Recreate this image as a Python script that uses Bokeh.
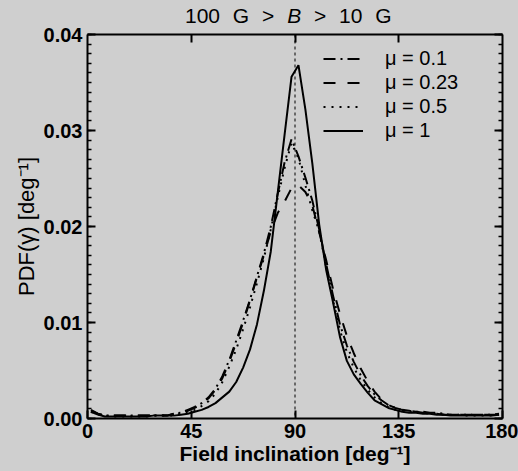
from bokeh.plotting import figure
from bokeh.models import Range1d, LinearAxis, FixedTicker, Span, Legend, LegendItem, Div
from bokeh.layouts import column
from bokeh.embed import file_html
from bokeh.resources import INLINE

# ---- data ----
inclination = [1.5, 4.5, 7.5, 10.5, 13.5, 16.5, 19.5, 22.5, 25.5, 28.5,
               31.5, 34.5, 37.5, 40.5, 43.5, 46.5, 49.5, 52.5, 55.5, 58.5,
               61.5, 64.5, 67.5, 70.5, 73.5, 76.5, 79.5, 82.5, 85.5, 88.5,
               91.5, 94.5, 97.5, 100.5, 103.5, 106.5, 109.5, 112.5, 115.5, 118.5,
               121.5, 124.5, 127.5, 130.5, 133.5, 136.5, 139.5, 142.5, 145.5, 148.5,
               151.5, 154.5, 157.5, 160.5, 163.5, 166.5, 169.5, 172.5, 175.5, 178.5]

pdf_mu_01 = [0.0009, 0.0005, 0.0003, 0.0003, 0.0003, 0.0003, 0.0003, 0.0003, 0.0003, 0.0003,
             0.0003, 0.0003, 0.0005, 0.0006, 0.0009, 0.0012, 0.0016, 0.0022, 0.0031, 0.0044,
             0.0061, 0.0081, 0.0102, 0.0124, 0.0148, 0.0172, 0.0200, 0.0234, 0.0267, 0.0291,
             0.0273, 0.0251, 0.0227, 0.0197, 0.0161, 0.0128, 0.0098, 0.0076, 0.0059, 0.0045,
             0.0034, 0.0025, 0.0019, 0.0014, 0.0011, 0.0009, 0.0008, 0.0007, 0.0007, 0.0006,
             0.0006, 0.0005, 0.0004, 0.0004, 0.0004, 0.0004, 0.0004, 0.0004, 0.0004, 0.0005]

pdf_mu_023 = [0.0008, 0.0005, 0.0003, 0.0003, 0.0003, 0.0003, 0.0003, 0.0003, 0.0003, 0.0003,
              0.0003, 0.0003, 0.0005, 0.0006, 0.0008, 0.0011, 0.0015, 0.0021, 0.0030, 0.0042,
              0.0059, 0.0079, 0.0100, 0.0123, 0.0147, 0.0170, 0.0195, 0.0214, 0.0226, 0.0240,
              0.0243, 0.0236, 0.0222, 0.0194, 0.0165, 0.0135, 0.0109, 0.0086, 0.0068, 0.0052,
              0.0039, 0.0028, 0.0020, 0.0014, 0.0011, 0.0009, 0.0008, 0.0007, 0.0006, 0.0006,
              0.0005, 0.0004, 0.0004, 0.0004, 0.0004, 0.0004, 0.0004, 0.0004, 0.0004, 0.0004]

pdf_mu_05 = [0.0007, 0.0004, 0.0003, 0.0002, 0.0002, 0.0002, 0.0002, 0.0002, 0.0002, 0.0003,
             0.0003, 0.0003, 0.0003, 0.0005, 0.0007, 0.0009, 0.0013, 0.0018, 0.0026, 0.0038,
             0.0054, 0.0072, 0.0093, 0.0116, 0.0141, 0.0167, 0.0197, 0.0230, 0.0261, 0.0287,
             0.0271, 0.0243, 0.0217, 0.0195, 0.0158, 0.0123, 0.0092, 0.0069, 0.0053, 0.0040,
             0.0030, 0.0022, 0.0016, 0.0012, 0.0009, 0.0008, 0.0007, 0.0006, 0.0006, 0.0005,
             0.0005, 0.0004, 0.0004, 0.0004, 0.0003, 0.0003, 0.0003, 0.0003, 0.0003, 0.0004]

pdf_mu_1 = [0.0007, 0.0004, 0.0002, 0.0002, 0.0002, 0.0002, 0.0002, 0.0002, 0.0002, 0.0003,
            0.0003, 0.0003, 0.0003, 0.0004, 0.0005, 0.0007, 0.0009, 0.0012, 0.0016, 0.0022,
            0.0028, 0.0038, 0.0053, 0.0072, 0.0098, 0.0133, 0.0174, 0.0235, 0.0296, 0.0356,
            0.0368, 0.0322, 0.0266, 0.0202, 0.0155, 0.0121, 0.0085, 0.0060, 0.0046, 0.0036,
            0.0027, 0.0019, 0.0015, 0.0011, 0.0009, 0.0007, 0.0006, 0.0006, 0.0005, 0.0005,
            0.0004, 0.0004, 0.0003, 0.0003, 0.0003, 0.0003, 0.0003, 0.0003, 0.0003, 0.0004]

series_labels = ["μ = 0.1", "μ = 0.23", "μ = 0.5", "μ = 1"]
vertical_marker = 90
x_ticks = [0, 45, 90, 135, 180]
x_top_ticks = [45, 90, 135]
y_ticks = [0.0, 0.01, 0.02, 0.03, 0.04]
y_tick_labels = ["0.00", "0.01", "0.02", "0.03", "0.04"]
title_html = "100 G &gt; <i>B</i> &gt; 10 G"
x_label = "Field inclination [deg⁻¹]"
y_label = "PDF(γ) [deg⁻¹]"

BG = "#cfcfcf"
FONT = "Liberation Sans"

title_div = Div(
    text=('<div style="width:518px;height:32px;box-sizing:border-box;padding-left:185px;'
          'line-height:32px;font-family:\'Liberation Sans\';font-size:21px;color:black;'
          'word-spacing:7px;white-space:nowrap;">%s</div>') % title_html,
    width=518, height=22, margin=0,
    styles={"background-color": BG, "overflow": "visible"})

p = figure(width=518, height=449, output_backend="svg", toolbar_location=None,
           x_range=Range1d(0, 180), y_range=Range1d(0, 0.04),
           min_border_left=87, min_border_right=16, min_border_top=12, min_border_bottom=53,
           background_fill_color=BG, border_fill_color=None, margin=0)
p.outline_line_color = None
p.xgrid.visible = False
p.ygrid.visible = False

y_minor = [round(i * 0.001, 3) for i in range(0, 41)]

def style_axis(ax):
    ax.axis_line_width = 2
    ax.axis_line_color = "black"
    ax.major_tick_in = 8
    ax.major_tick_out = 0
    ax.minor_tick_in = 4
    ax.minor_tick_out = 0
    ax.major_tick_line_width = 2
    ax.minor_tick_line_width = 1.5
    ax.major_label_text_font = FONT
    ax.major_label_text_font_style = "bold"
    ax.major_label_text_font_size = "20px"
    ax.major_label_text_color = "black"
    ax.axis_label_text_color = "black"
    ax.axis_label_text_font = FONT

xa = p.xaxis[0]
xa.ticker = FixedTicker(ticks=x_ticks, minor_ticks=[])
style_axis(xa)
xa.major_label_standoff = 5
xa.axis_label = x_label
xa.axis_label_text_font_style = "bold"
xa.axis_label_text_font_size = "21px"
xa.axis_label_standoff = 1

ya = p.yaxis[0]
ya.ticker = FixedTicker(ticks=y_ticks, minor_ticks=y_minor)
style_axis(ya)
ya.major_label_overrides = {t: s for t, s in zip(y_ticks, y_tick_labels)}
ya.major_label_standoff = 5
ya.axis_label = y_label
ya.axis_label_text_font_style = "normal"
ya.axis_label_text_font_size = "22px"
ya.axis_label_standoff = 2

top = LinearAxis(ticker=FixedTicker(ticks=x_top_ticks, minor_ticks=[]))
style_axis(top)
top.major_label_overrides = {t: "" for t in x_top_ticks}
top.major_label_standoff = 0
top.major_label_text_font_size = "1px"
p.add_layout(top, "above")

right = LinearAxis(ticker=FixedTicker(ticks=y_ticks, minor_ticks=y_minor))
style_axis(right)
right.major_label_overrides = {t: "" for t in y_ticks}
right.major_label_standoff = 0
right.major_label_text_font_size = "1px"
p.add_layout(right, "right")

p.add_layout(Span(location=vertical_marker, dimension="height", line_color="black",
                  line_width=1, line_dash="3 3"))

r1 = p.line(inclination, pdf_mu_01, line_color="black", line_width=2, line_dash="12 5 2 5")
r2 = p.line(inclination, pdf_mu_023, line_color="black", line_width=2, line_dash="12 12")
r3 = p.line(inclination, pdf_mu_05, line_color="black", line_width=2, line_dash="2 6")
r4 = p.line(inclination, pdf_mu_1, line_color="black", line_width=2)

legend = Legend(items=[LegendItem(label=l, renderers=[r]) for l, r in
                       zip(series_labels, [r1, r2, r3, r4])],
                location=(236, 276), padding=0, margin=0, spacing=1,
                glyph_width=40, glyph_height=21, label_height=21, label_standoff=22,
                label_text_font=FONT, label_text_font_size="20px",
                label_text_color="black",
                background_fill_alpha=0, border_line_color=None)
p.add_layout(legend)

layout = column(title_div, p, spacing=0, margin=0, styles={"background-color": BG})
open("out.html", "w").write(file_html(layout, INLINE))
